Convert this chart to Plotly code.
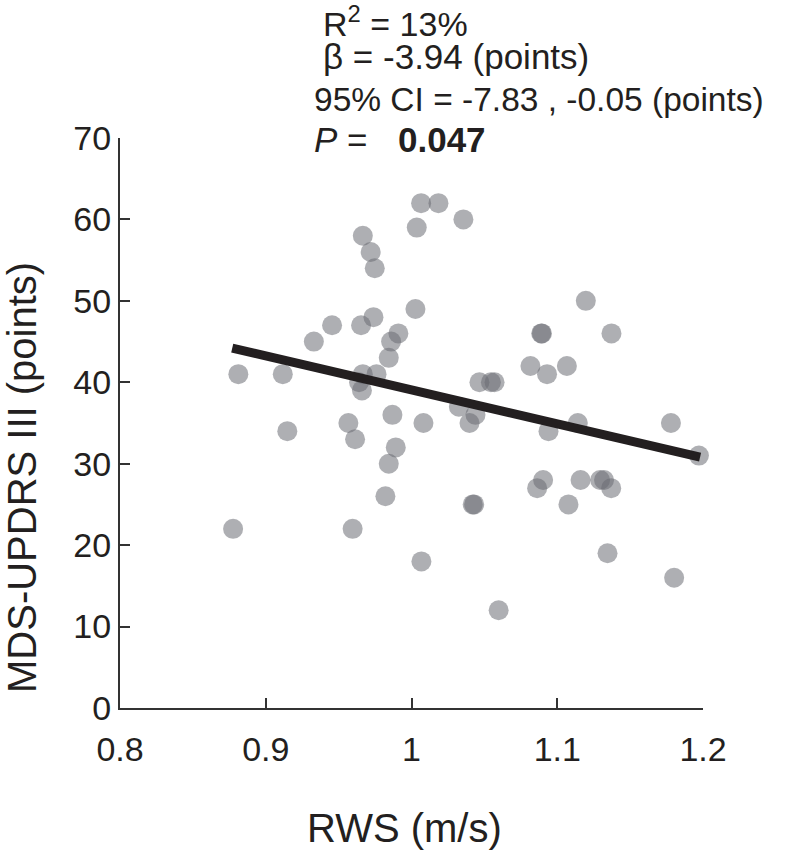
import plotly.graph_objects as go

rws = [1.0066, 1.0185, 1.0356, 1.0036, 0.9666, 0.9720, 0.9748, 1.1196, 1.0027, 0.9739,
       0.9455, 0.9654, 0.9910, 1.0890, 1.0895, 1.1372, 0.9330, 0.9860, 0.9844, 1.0816,
       1.1066, 0.8812, 0.9117, 0.9666, 0.9760, 1.0930, 0.9640, 0.9660, 1.0466, 1.0545,
       1.0570, 1.0325, 1.0439, 0.9869, 1.0398, 0.9567, 1.0082, 1.1141, 1.1780, 0.9148,
       1.0940, 0.9613, 0.9892, 1.1972, 0.9844, 1.0903, 1.1160, 1.1294, 1.1321, 1.0862,
       1.1370, 0.9821, 1.0420, 1.0430, 1.1077, 0.8776, 0.9596, 1.1345, 1.0068, 1.1802,
       1.0598]
updrs = [62, 62, 60, 59, 58, 56, 54, 50, 49, 48,
         47, 47, 46, 46, 46, 46, 45, 45, 43, 42,
         42, 41, 41, 41, 41, 41, 40, 39, 40, 40,
         40, 37, 36, 36, 35, 35, 35, 35, 35, 34,
         34, 33, 32, 31, 30, 28, 28, 28, 28, 27,
         27, 26, 25, 25, 25, 22, 22, 19, 18, 16,
         12]

fit_x = [0.877, 1.198]
fit_y = [44.2, 30.8]

x_ticks = [0.8, 0.9, 1.0, 1.1, 1.2]
x_tick_text = ["0.8", "0.9", "1", "1.1", "1.2"]
y_ticks = [0, 10, 20, 30, 40, 50, 60, 70]

stats_lines = ["R<sup>2</sup> = 13%", "β = -3.94 (points)", "95% CI = -7.83 , -0.05 (points)"]
p_label = "<i>P</i> ="
p_value = "<b>0.047</b>"

FONT = "Liberation Sans, Arial, sans-serif"
TXT = "#231f20"

fig = go.Figure()
fig.add_trace(go.Scatter(
    x=rws, y=updrs, mode="markers",
    marker=dict(size=20, color="rgb(105,107,115)", opacity=0.54, line=dict(width=0)),
    cliponaxis=False, showlegend=False, hoverinfo="skip"))
fig.add_trace(go.Scatter(
    x=fit_x, y=fit_y, mode="lines",
    line=dict(color=TXT, width=9), cliponaxis=False, showlegend=False, hoverinfo="skip"))

W, H = 787, 853
L, R, T, B = 120, 84, 138, 145
pw, ph = W - L - R, H - T - B

def px(xp):
    return (xp - L) / pw

def py(yp):
    return (H - B - yp) / ph

annots = []
annots.append(dict(text=stats_lines[0], x=px(321), y=py(21), size=34))
annots.append(dict(text=stats_lines[1], x=px(321), y=py(56), size=35))
annots.append(dict(text=stats_lines[2], x=px(312), y=py(99), size=33.5))
annots.append(dict(text=p_label, x=px(312), y=py(139), size=35))
annots.append(dict(text=p_value, x=px(396), y=py(139), size=35))
for a in annots:
    s = a.pop("size")
    a.update(xref="paper", yref="paper", xanchor="left", yanchor="middle",
             showarrow=False, font=dict(family=FONT, size=s, color=TXT))

annots.append(dict(text="MDS-UPDRS III (points)", x=px(22), y=py(478), xref="paper", yref="paper",
                   xanchor="center", yanchor="middle", textangle=-90, showarrow=False,
                   font=dict(family=FONT, size=40, color=TXT)))
annots.append(dict(text="RWS (m/s)", x=px(404), y=py(828), xref="paper", yref="paper",
                   xanchor="center", yanchor="middle", showarrow=False,
                   font=dict(family=FONT, size=40, color=TXT)))

fig.update_layout(
    width=W, height=H,
    margin=dict(l=L, r=R, t=T, b=B),
    paper_bgcolor="white", plot_bgcolor="white",
    annotations=annots,
    xaxis=dict(range=[0.8, 1.2], tickvals=x_ticks, ticktext=x_tick_text,
               showgrid=False, zeroline=False, showline=True, linecolor="#333333", linewidth=2,
               ticks="inside", ticklen=10, tickwidth=2, tickcolor="#333333",
               tickfont=dict(family=FONT, size=34, color=TXT), ticklabelstandoff=10),
    yaxis=dict(range=[0, 70], tickvals=y_ticks,
               showgrid=False, zeroline=False, showline=True, linecolor="#333333", linewidth=2,
               ticks="inside", ticklen=10, tickwidth=2, tickcolor="#333333",
               tickfont=dict(family=FONT, size=34, color=TXT), ticklabelstandoff=0),
)

# remove the default page margin so the figure sits at the window's top-left corner
fig.write_html("out.html", config={"displayModeBar": False},
               post_script="document.body.style.margin='0px';document.body.style.overflow='hidden';")
